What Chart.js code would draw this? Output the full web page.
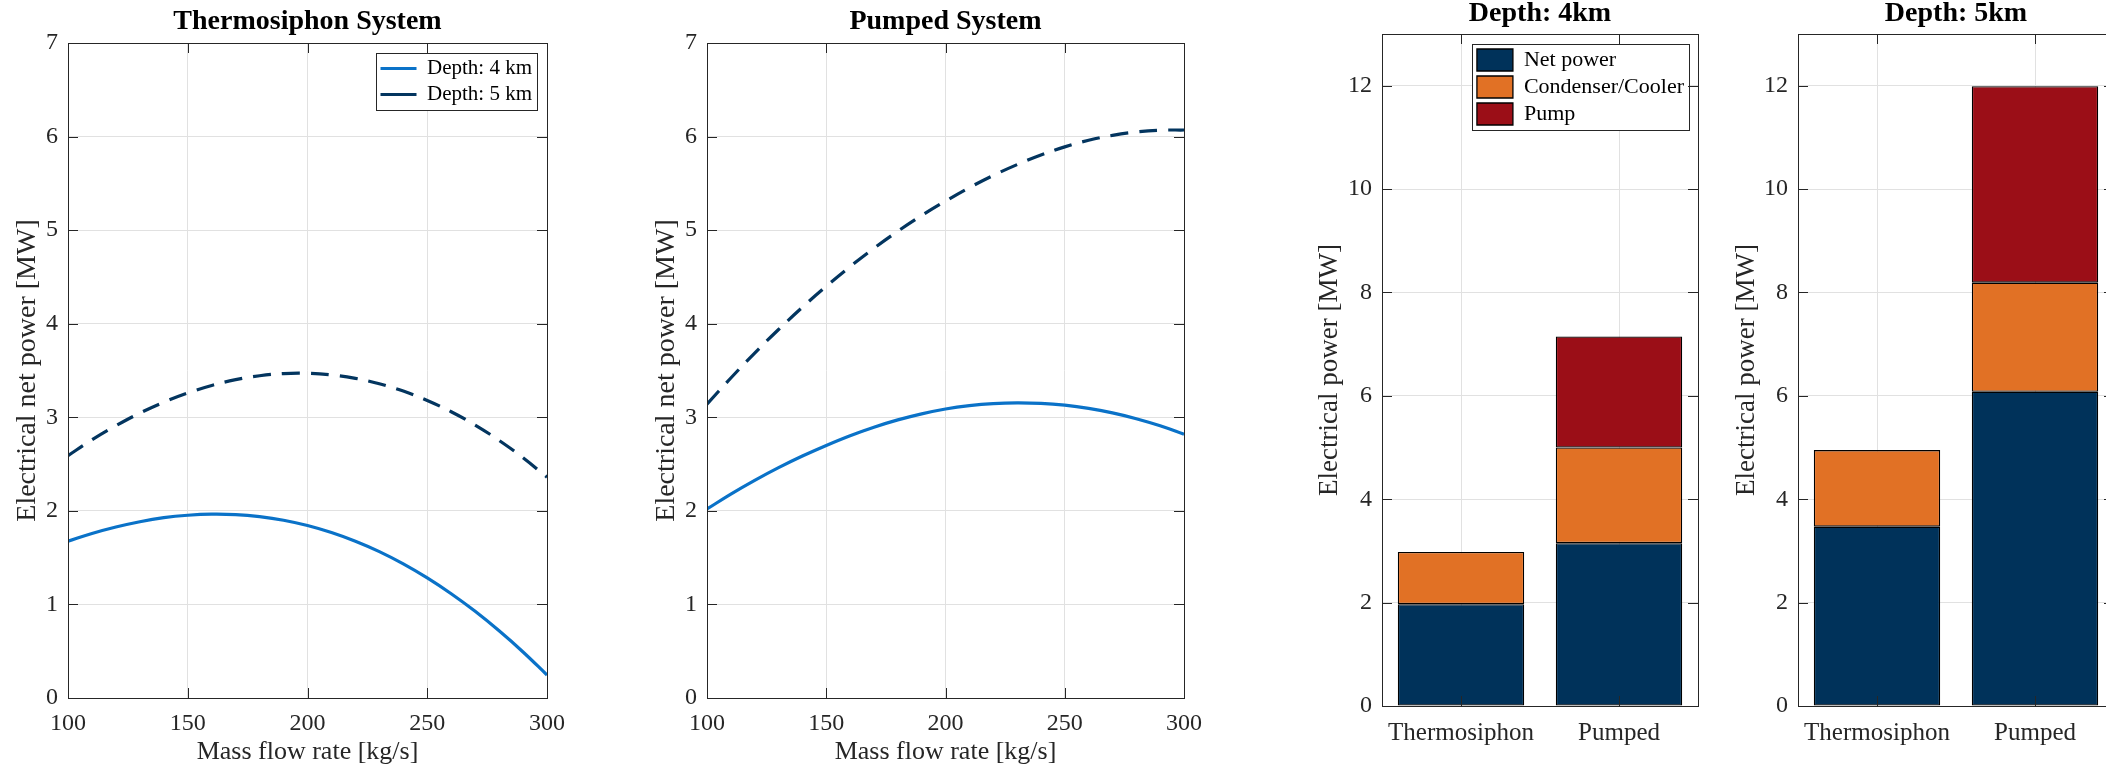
<!DOCTYPE html>
<html>
<head>
<meta charset="utf-8">
<script src="https://cdn.jsdelivr.net/npm/chart.js@4.4.1/dist/chart.umd.min.js"></script>
<style>
  html, body { margin: 0; padding: 0; background: #fff; width: 2106px; height: 768px; overflow: hidden; }
  .panel { position: absolute; top: 0; height: 768px; }
  .panel canvas { display: block; }
</style>
</head>
<body>
<div class="panel" id="p1" style="left:0px;width:576px"><canvas id="c1"></canvas></div>
<div class="panel" id="p2" style="left:639px;width:574px"><canvas id="c2"></canvas></div>
<div class="panel" id="p3" style="left:1312px;width:400px"><canvas id="c3"></canvas></div>
<div class="panel" id="p4" style="left:1728px;width:400px"><canvas id="c4"></canvas></div>
<script>
// Mass flow rate samples [kg/s]
const flowRate = [100, 110, 120, 130, 140, 150, 160, 170, 180, 190, 200,
                  210, 220, 230, 240, 250, 260, 270, 280, 290, 300];

// Electrical net power [MW] - thermosiphon system
const thermoDepth4 = [1.675, 1.758, 1.827, 1.884, 1.927, 1.953, 1.965, 1.960, 1.938, 1.900, 1.843,
                      1.768, 1.675, 1.564, 1.433, 1.283, 1.114, 0.926, 0.718, 0.492, 0.246];
const thermoDepth5 = [2.59, 2.759, 2.910, 3.045, 3.161, 3.26, 3.340, 3.402, 3.444, 3.467, 3.47,
                      3.453, 3.416, 3.358, 3.280, 3.18, 3.059, 2.917, 2.753, 2.568, 2.36];

// Electrical net power [MW] - pumped system
const pumpedDepth4 = [2.02, 2.179, 2.326, 2.462, 2.586, 2.699, 2.803, 2.894, 2.972, 3.037, 3.089,
                      3.125, 3.147, 3.155, 3.149, 3.129, 3.095, 3.047, 2.985, 2.909, 2.819];
const pumpedDepth5 = [3.14, 3.42, 3.686, 3.938, 4.176, 4.40, 4.61, 4.806, 4.988, 5.156, 5.31,
                      5.454, 5.584, 5.70, 5.802, 5.89, 5.96, 6.013, 6.049, 6.068, 6.07];

// Power breakdown [MW] per system
const systems = ['Thermosiphon', 'Pumped'];
const netPower4  = [1.97, 3.15];
const condenser4 = [1.01, 1.85];
const pump4      = [null, 2.15];
const netPower5  = [3.47, 6.08];
const condenser5 = [1.48, 2.11];
const pump5      = [null, 3.80];

const xTicksFlow = [100, 150, 200, 250, 300];

// ---- styling ----
const FONT = '"Liberation Serif", "Times New Roman", serif';
const AXIS = '#262626';
const GRID = '#e1e1e1';
const BLUE = '#0a72c8';
const NAVY = '#03355f';
const NET_C = '#00325a';
const COND_C = '#e17125';
const PUMP_C = '#9b0e17';

Chart.defaults.font.family = FONT;
Chart.defaults.color = AXIS;

// Full axes box plus inward tick marks on all four sides
const axesBox = {
  id: 'axesBox',
  afterDatasetsDraw(chart) {
    const { ctx, chartArea: a, scales } = chart;
    const len = 10;
    ctx.save();
    ctx.strokeStyle = AXIS;
    ctx.lineWidth = 1;
    ctx.beginPath();
    scales.x.ticks.forEach((t, i) => {
      const px = Math.round(scales.x.getPixelForTick(i)) + 0.5;
      ctx.moveTo(px, a.bottom); ctx.lineTo(px, a.bottom - len);
      ctx.moveTo(px, a.top); ctx.lineTo(px, a.top + len);
    });
    scales.y.ticks.forEach((t, i) => {
      const py = Math.round(scales.y.getPixelForTick(i)) + 0.5;
      ctx.moveTo(a.left, py); ctx.lineTo(a.left + len, py);
      ctx.moveTo(a.right, py); ctx.lineTo(a.right - len, py);
    });
    ctx.stroke();
    ctx.strokeRect(Math.round(a.left) + 0.5, Math.round(a.top) + 0.5,
                   Math.round(a.right - a.left), Math.round(a.bottom - a.top));
    ctx.restore();
  }
};

// Places the in-axes legend at the top-right corner and gives it a framed white box
const legendFrame = {
  id: 'legendFrame',
  afterLayout(chart, args, opts) {
    const lg = chart.legend;
    if (!lg || !lg.options.display || !lg.legendHitBoxes || !lg.legendHitBoxes.length) return;
    const pad = lg.options.labels.padding;
    const w = Math.max(...lg.legendHitBoxes.map(b => b.width)) + 2 * pad;
    const h = lg.legendHitBoxes.reduce((s, b) => s + b.height + pad, pad);
    const a = chart.chartArea;
    lg.left = a.right - opts.right - w;
    lg.right = lg.left + w;
    lg.top = a.top + opts.top;
    lg.bottom = lg.top + h + 1;
    lg.width = w;
    lg.height = h + 1;
    lg.frame = { x: lg.left, y: lg.top, w, h };
  },
  beforeDatasetsDraw(chart) {
    const lg = chart.legend;
    if (!lg || !lg.options.display || !lg.frame) return;
    const { ctx } = chart;
    const f = lg.frame;
    ctx.save();
    ctx.fillStyle = '#ffffff';
    ctx.fillRect(f.x, f.y, f.w, f.h);
    ctx.strokeStyle = AXIS;
    ctx.lineWidth = 1;
    ctx.strokeRect(Math.round(f.x) + 0.5, Math.round(f.y) + 0.5, Math.round(f.w), Math.round(f.h));
    ctx.restore();
    lg.draw();
  }
};

const pairs = ys => flowRate.map((x, i) => ({ x, y: ys[i] }));

function lineChart(id, title, d4, d5, showLegend) {
  return new Chart(document.getElementById(id), {
    type: 'line',
    data: {
      datasets: [
        { label: 'Depth: 4 km', data: pairs(d4), borderColor: BLUE, backgroundColor: BLUE,
          borderWidth: 3.2, pointRadius: 0, tension: 0.4 },
        { label: 'Depth: 5 km', data: pairs(d5), borderColor: NAVY, backgroundColor: NAVY,
          borderWidth: 3.2, borderDash: [18, 11], pointRadius: 0, tension: 0.4 }
      ]
    },
    options: {
      responsive: true, maintainAspectRatio: false, animation: false,
      layout: { padding: { left: 0, top: 0, right: 22, bottom: 0 } },
      scales: {
        x: {
          type: 'linear', min: 100, max: 300,
          afterBuildTicks: s => { s.ticks = xTicksFlow.map(v => ({ value: v })); },
          ticks: { padding: 11, font: { size: 24 }, color: AXIS },
          grid: { color: GRID, drawTicks: false },
          border: { display: false },
          title: { display: true, text: 'Mass flow rate [kg/s]', font: { size: 26 }, color: AXIS,
                   padding: { top: 0, bottom: 0 } },
          afterFit: s => { s.height = 70; }
        },
        y: {
          min: 0, max: 7,
          ticks: { stepSize: 1, padding: 10, font: { size: 24 }, color: AXIS },
          grid: { color: GRID, drawTicks: false },
          border: { display: false },
          title: { display: true, text: 'Electrical net power [MW]', font: { size: 28 }, color: AXIS,
                   padding: { top: 11, bottom: 0 } },
          afterFit: s => { s.width = 68; }
        }
      },
      plugins: {
        title: { display: true, fullSize: false, text: title, color: '#000',
                 font: { size: 28, weight: 'bold', lineHeight: 1 }, padding: { top: 8, bottom: 7 } },
        legend: {
          display: showLegend, position: 'chartArea', align: 'start',
          labels: { usePointStyle: true, pointStyle: 'line', pointStyleWidth: 36,
                    font: { size: 21 }, padding: 5, color: '#000' }
        },
        legendFrame: { right: 10, top: 10 },
        tooltip: { enabled: false }
      }
    },
    plugins: [axesBox, legendFrame]
  });
}

function barChart(id, title, net, cond, pump, showLegend, yTitlePad) {
  const common = { borderColor: '#000000', borderWidth: 1.3, borderSkipped: false,
                   barPercentage: 0.8, categoryPercentage: 1.0 };
  return new Chart(document.getElementById(id), {
    type: 'bar',
    data: {
      labels: systems,
      datasets: [
        Object.assign({ label: 'Net power', data: net, backgroundColor: NET_C }, common),
        Object.assign({ label: 'Condenser/Cooler', data: cond, backgroundColor: COND_C }, common),
        Object.assign({ label: 'Pump', data: pump, backgroundColor: PUMP_C }, common)
      ]
    },
    options: {
      responsive: true, maintainAspectRatio: false, animation: false,
      layout: { padding: { left: 0, top: 0, right: 14, bottom: 0 } },
      scales: {
        x: {
          stacked: true,
          ticks: { padding: 12, font: { size: 25 }, color: AXIS },
          grid: { color: GRID, drawTicks: false, offset: false },
          border: { display: false },
          afterFit: s => { s.height = 62; }
        },
        y: {
          stacked: true, min: 0, max: 13,
          ticks: { stepSize: 2, includeBounds: false, padding: 10, font: { size: 24 }, color: AXIS },
          grid: { color: GRID, drawTicks: false },
          border: { display: false },
          title: { display: true, text: 'Electrical power [MW]', font: { size: 27 }, color: AXIS,
                   padding: { top: yTitlePad, bottom: 0 } },
          afterFit: s => { s.width = 70; }
        }
      },
      plugins: {
        title: { display: true, fullSize: false, text: title, color: '#000',
                 font: { size: 28, weight: 'bold', lineHeight: 1 }, padding: { top: 0, bottom: 6 } },
        legend: {
          display: showLegend, position: 'chartArea', align: 'start',
          labels: { boxWidth: 36, boxHeight: 22, font: { size: 22 }, padding: 5, color: '#000' }
        },
        legendFrame: { right: 9, top: 10 },
        tooltip: { enabled: false }
      }
    },
    plugins: [axesBox, legendFrame]
  });
}

lineChart('c1', 'Thermosiphon System', thermoDepth4, thermoDepth5, true);
lineChart('c2', 'Pumped System', pumpedDepth4, pumpedDepth5, false);
barChart('c3', 'Depth: 4km', netPower4, condenser4, pump4, true, 2);
barChart('c4', 'Depth: 5km', netPower5, condenser5, pump5, false, 3);
</script>
</body>
</html>
